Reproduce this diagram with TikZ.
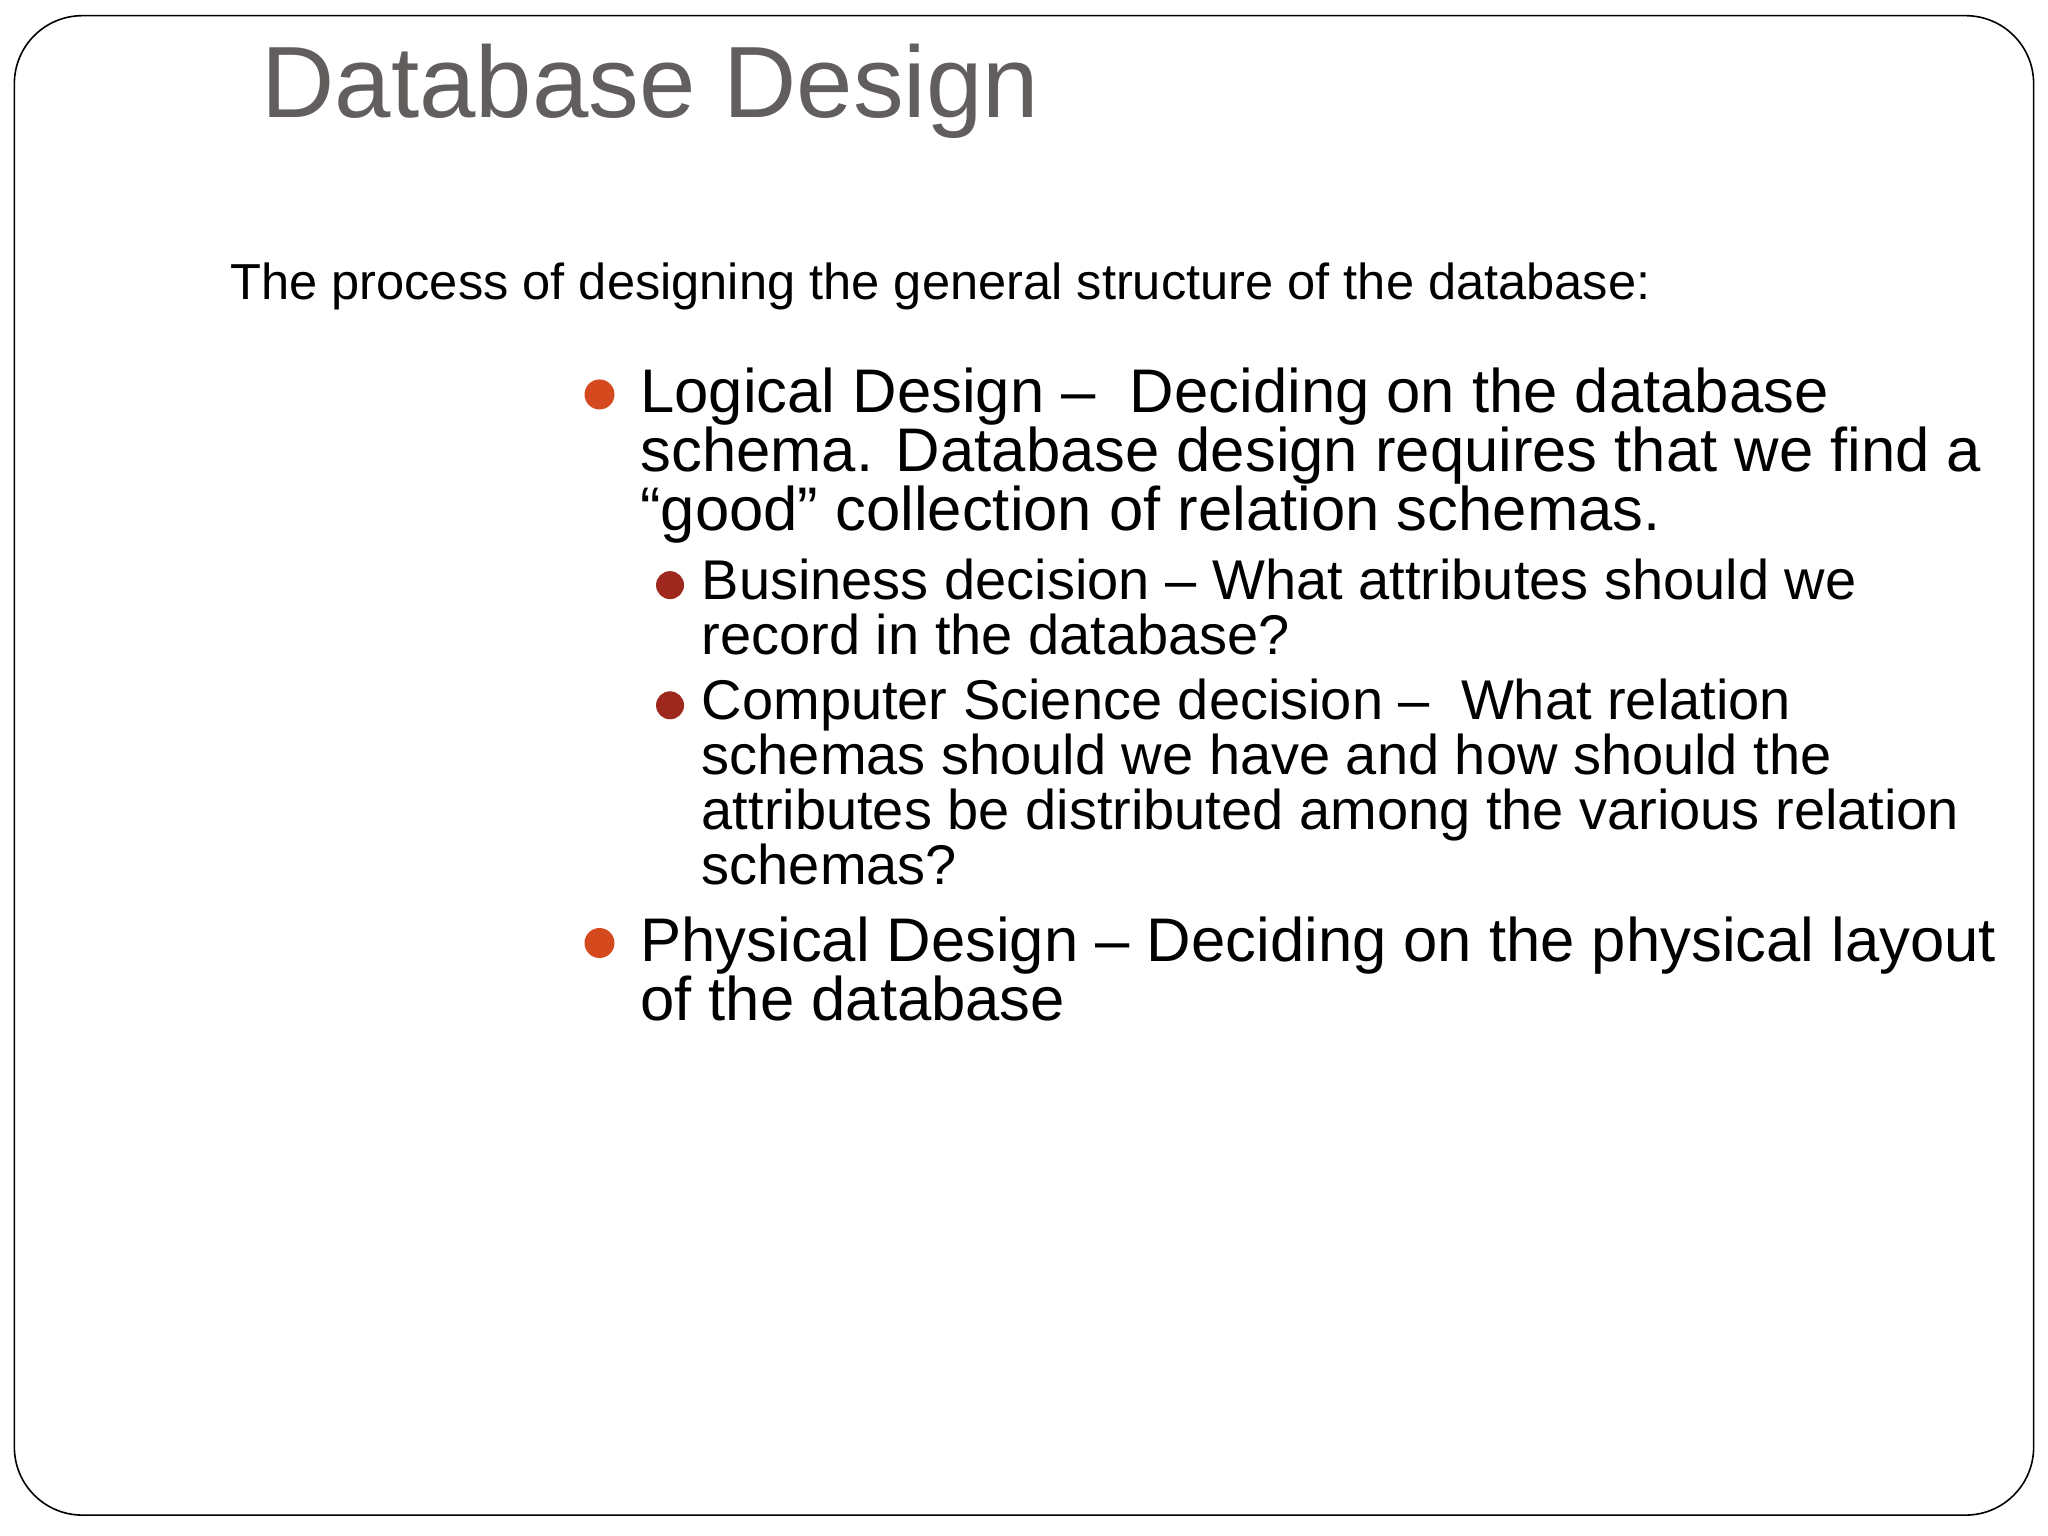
\documentclass[tikz,border=0pt]{standalone}
\usepackage{fontspec}
\setmainfont{Liberation Sans}
\definecolor{titlegray}{RGB}{98,94,94}
\definecolor{bulorange}{RGB}{212,74,30}
\definecolor{bulred}{RGB}{158,40,30}
\begin{document}
\begin{tikzpicture}[x=0.6531pt,y=-0.6531pt,
  ln/.style={anchor=base west,inner sep=0pt},
  lone/.style={ln,font=\fontsize{30.8}{30.8}\selectfont},
  ltwo/.style={ln,font=\fontsize{28}{28}\selectfont},
  bone/.style={circle,fill=bulorange,inner sep=0pt,minimum size=15pt},
  btwo/.style={circle,fill=bulred,inner sep=0pt,minimum size=14pt}]
\useasboundingbox (0,0) rectangle (1568,1176);
\draw[line width=0.8pt,rounded corners=34pt] (11,12) rectangle (1557,1160);
\node[ln,text=titlegray,font=\fontsize{50.7}{50.7}\selectfont] (title) at (200,90) {Database Design};
\node[ln,font=\fontsize{25.3}{25.3}\selectfont] (intro) at (176,229) {The process of designing the general structure of the database:};
\node[bone] (b1) at (459,302) {};
\node[lone] (l1) at (490,316) {Logical Design –\ \ Deciding on the database};
\node[lone] (l2) at (490,361) {schema. Database design requires that we find a};
\node[lone] (l3) at (490,406) {“good” collection of relation schemas.};
\node[btwo] (b2) at (513,448) {};
\node[ltwo] (s1) at (537,459) {Business decision – What attributes should we};
\node[ltwo] (s2) at (537,501) {record in the database?};
\node[btwo] (b3) at (513,540) {};
\node[ltwo] (s3) at (537,551) {Computer Science decision –\ \ What relation};
\node[ltwo] (s4) at (537,593) {schemas should we have and how should the};
\node[ltwo] (s5) at (537,635) {attributes be distributed among the various relation};
\node[ltwo] (s6) at (537,677) {schemas?};
\node[bone] (b4) at (459,722) {};
\node[lone] (p1) at (490,736) {Physical Design – Deciding on the physical layout};
\node[lone] (p2) at (490,781) {of the database};
\end{tikzpicture}
\end{document}
